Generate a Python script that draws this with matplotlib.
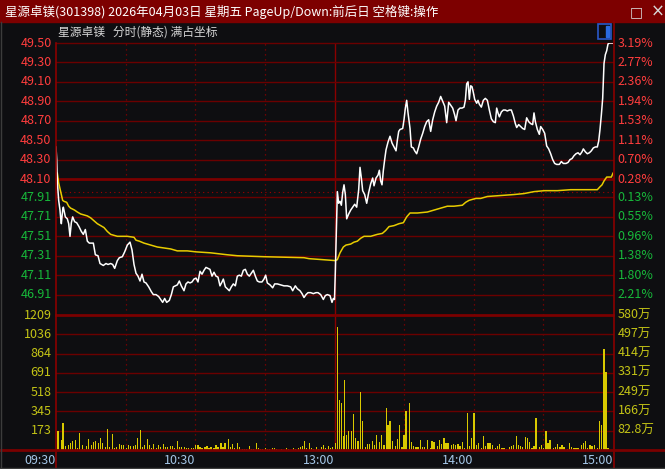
import matplotlib
matplotlib.use('Agg')
import matplotlib.pyplot as plt
from matplotlib.patches import Rectangle
from matplotlib.lines import Line2D

plt.rcParams['font.family'] = ['Noto Sans CJK SC', 'DejaVu Sans']

title = '星源卓镁(301398) 2026年04月03日 星期五 PageUp/Down:前后日 空格键:操作'
subtitle = '星源卓镁   分时(静态) 满占坐标'
prev_close = 47.97

price_ticks = [49.50, 49.30, 49.10, 48.90, 48.70, 48.50, 48.30, 48.10,
               47.91, 47.71, 47.51, 47.31, 47.11, 46.91]
pct_labels = ['3.19%', '2.77%', '2.36%', '1.94%', '1.53%', '1.11%', '0.70%', '0.28%',
              '0.13%', '0.55%', '0.96%', '1.38%', '1.80%', '2.21%']
vol_ticks = [173, 345, 518, 691, 864, 1036, 1209]
amt_labels = ['82.8万', '166万', '249万', '331万', '414万', '497万', '580万']
time_ticks = [0, 60, 120, 180, 240]
time_labels = ['09:30', '10:30', '13:00', '14:00', '15:00']

# minute index (0 = 09:30, 120 = 11:30/13:00, 240 = 15:00)
price_t = [0, 0.3, 0.6, 1.15, 1.72, 2.01, 2.30, 2.87, 3.16, 4.02, 4.88, 5.46, 6.03, 6.61, 7.18,
           8.04, 8.90, 9.91, 10.92, 11.78, 12.64, 13.50, 14.36, 16.09, 16.95, 18.10, 18.96,
           20.39, 21.54, 22.41, 23.55, 24.42, 25.28, 26.43, 27.29, 28.58, 29.59, 30.74, 31.88,
           32.75, 33.61, 34.47, 35.33, 36.20, 37.06, 37.92, 38.78, 39.93, 41.08, 41.94, 43.09,
           44.24, 45.10, 45.96, 46.82, 47.69, 48.83, 49.70, 50.56, 51.42, 52.28, 53.14, 54.00,
           55.15, 56.01, 56.88, 57.74, 58.60, 59.46, 60.33, 61.18, 62.05, 62.91, 63.77, 64.63,
           65.49, 66.35, 67.22, 68.08, 68.94, 69.80, 70.66, 71.52, 72.10, 72.96, 73.82, 74.68,
           75.55, 76.41, 77.27, 78.13, 78.99, 79.86, 80.72, 81.58, 82.44, 83.30, 84.16, 85.03,
           85.89, 86.75, 87.61, 88.76, 89.62, 90.34, 91.06, 92.21, 93.36, 94.22, 95.37, 96.80,
           98.24, 99.68, 101.11, 101.98, 103.12, 103.99, 105.13, 106.00, 106.86, 107.72, 108.58,
           109.73, 110.88, 112.03, 112.89, 114.04, 115.19, 116.05, 116.91, 118.06, 118.92,
           119.50, 120.00, 120.36, 120.94, 121.23, 121.80, 122.38, 122.95, 123.52, 124.10,
           124.67, 125.25, 126.11, 126.97, 127.83, 128.70, 129.56, 130.42, 130.99, 131.57,
           132.14, 133.00, 133.87, 134.73, 135.59, 136.45, 137.03, 137.89, 138.75, 139.32,
           139.90, 140.47, 141.05, 141.62, 142.20, 143.06, 143.92, 144.78, 145.64, 146.51,
           147.08, 147.66, 148.23, 149.38, 149.95, 150.53, 151.10, 151.68, 152.54, 153.11,
           153.97, 154.55, 155.41, 156.27, 157.13, 158.00, 158.86, 159.72, 160.58, 161.44,
           162.31, 163.17, 164.03, 164.89, 165.75, 166.61, 167.48, 168.34, 169.20, 170.06,
           170.92, 171.78, 172.36, 173.22, 174.08, 174.95, 175.81, 176.38, 176.95, 177.53,
           178.10, 178.68, 179.25, 179.83, 180.40, 181.26, 181.83, 182.41, 183.27, 184.13,
           184.99, 185.86, 186.72, 187.58, 188.44, 189.30, 189.88, 190.45, 191.03, 191.89,
           192.75, 193.61, 194.47, 195.34, 196.20, 197.06, 197.92, 198.50, 199.36, 200.22,
           201.08, 201.94, 202.80, 203.67, 204.53, 205.39, 205.96, 206.54, 207.40, 208.26,
           208.84, 209.70, 210.56, 211.42, 212.28, 213.14, 214.01, 214.87, 215.73, 216.88,
           217.74, 218.60, 219.75, 220.61, 221.48, 222.34, 223.20, 224.06, 224.92, 225.78,
           226.65, 227.22, 228.08, 228.94, 229.81, 230.67, 231.53, 232.39, 233.25, 233.83,
           234.40, 234.98, 235.55, 235.84, 236.13, 236.70, 237.28, 237.85, 238.42, 239.86]
price_v = [48.43, 48.30, 48.06, 47.88, 47.78, 47.70, 47.64, 47.78, 47.81, 47.71, 47.69, 47.64,
           47.51, 47.65, 47.71, 47.66, 47.65, 47.61, 47.56, 47.53, 47.58, 47.46, 47.44, 47.44,
           47.32, 47.31, 47.23, 47.21, 47.23, 47.22, 47.23, 47.22, 47.18, 47.26, 47.29, 47.30,
           47.35, 47.42, 47.45, 47.37, 47.22, 47.13, 47.10, 47.05, 47.12, 47.04, 47.03, 46.99,
           46.94, 46.91, 46.91, 46.89, 46.86, 46.83, 46.87, 46.83, 46.85, 46.91, 46.99, 47.00,
           47.01, 47.05, 47.00, 46.95, 47.02, 47.04, 47.03, 47.04, 47.07, 47.08, 47.04, 47.15,
           47.12, 47.16, 47.19, 47.18, 47.17, 47.10, 47.14, 47.10, 47.09, 47.00, 47.04, 47.07,
           46.99, 46.97, 46.95, 46.99, 47.02, 47.00, 47.10, 47.11, 47.10, 47.16, 47.17, 47.12,
           47.10, 47.13, 47.16, 47.10, 47.05, 47.04, 47.04, 47.07, 47.11, 47.03, 47.01, 46.98,
           47.02, 47.02, 47.01, 47.00, 47.00, 46.99, 46.95, 47.00, 46.97, 46.95, 46.92, 46.88,
           46.91, 46.93, 46.93, 46.92, 46.93, 46.93, 46.91, 46.86, 46.90, 46.91, 46.90, 46.83,
           46.87, 46.86, 47.15, 47.70, 47.97, 47.85, 47.87, 47.83, 47.96, 48.04, 47.94, 47.69,
           47.74, 47.78, 47.81, 47.84, 47.81, 47.99, 48.22, 48.11, 47.98, 47.94, 47.85, 47.96,
           48.05, 48.11, 48.03, 48.11, 48.14, 48.19, 48.08, 48.04, 48.19, 48.30, 48.40, 48.48,
           48.54, 48.47, 48.43, 48.39, 48.50, 48.59, 48.61, 48.62, 48.71, 48.83, 48.91, 48.78,
           48.62, 48.43, 48.42, 48.39, 48.36, 48.43, 48.51, 48.57, 48.64, 48.69, 48.71, 48.59,
           48.71, 48.79, 48.85, 48.89, 48.95, 48.90, 48.85, 48.68, 48.89, 48.86, 48.83, 48.76,
           48.70, 48.81, 48.83, 48.83, 48.84, 48.91, 49.08, 49.10, 48.92, 49.06, 49.05, 48.99,
           48.92, 48.88, 48.91, 48.87, 48.84, 48.91, 48.93, 48.91, 48.81, 48.72, 48.69, 48.68,
           48.83, 48.78, 48.74, 48.79, 48.81, 48.81, 48.80, 48.81, 48.81, 48.75, 48.67, 48.63,
           48.66, 48.64, 48.62, 48.61, 48.73, 48.69, 48.67, 48.66, 48.78, 48.69, 48.61, 48.56,
           48.64, 48.61, 48.57, 48.44, 48.41, 48.36, 48.30, 48.26, 48.25, 48.25, 48.28, 48.26,
           48.26, 48.27, 48.30, 48.31, 48.34, 48.36, 48.37, 48.35, 48.38, 48.41, 48.38, 48.36,
           48.37, 48.39, 48.42, 48.43, 48.43, 48.49, 48.61, 48.76, 48.93, 49.10, 49.29, 49.38,
           49.42, 49.49, 49.50, 49.50]

avg_t = [0.57, 1.15, 2.01, 2.87, 3.45, 4.6, 5.46, 6.3, 7.18, 8.0, 9.19, 10.63, 12.07, 13.50,
         14.94, 16.37, 17.81, 19.25, 20.68, 22.12, 23.55, 24.99, 26.43, 27.86, 30.74, 33.61,
         34.47, 35.91, 37.92, 40.79, 43.66, 46.53, 49.41, 52.28, 56.59, 60.33, 66.64, 73.82,
         78.13, 89.62, 106.86, 109.01, 114.76, 120.36, 121.23, 122.38, 123.81, 124.96, 126.97,
         128.41, 129.85, 131.28, 132.72, 135.59, 138.46, 140.62, 142.05, 143.49, 145.64, 147.80,
         149.67, 151.10, 152.54, 155.70, 160.01, 162.88, 165.75, 168.62, 171.49, 175.09, 176.52,
         177.96, 179.40, 180.98, 182.98, 185.86, 191.60, 197.35, 201.65, 205.96, 210.56, 216.02,
         221.77, 228.94, 233.25, 234.40, 235.27, 236.13, 237.28, 239.29, 240.0]
avg_v = [48.16, 48.06, 47.97, 47.88, 47.87, 47.86, 47.82, 47.80, 47.79, 47.78, 47.76, 47.74,
         47.73, 47.72, 47.70, 47.67, 47.64, 47.62, 47.60, 47.56, 47.53, 47.52, 47.51, 47.51,
         47.51, 47.50, 47.47, 47.46, 47.44, 47.42, 47.40, 47.39, 47.38, 47.36, 47.36, 47.35,
         47.34, 47.32, 47.31, 47.30, 47.29, 47.28, 47.27, 47.26, 47.27, 47.34, 47.40, 47.42,
         47.43, 47.45, 47.46, 47.49, 47.51, 47.51, 47.53, 47.54, 47.57, 47.61, 47.62, 47.64,
         47.65, 47.71, 47.75, 47.75, 47.76, 47.78, 47.80, 47.82, 47.82, 47.83, 47.86, 47.88,
         47.89, 47.90, 47.90, 47.92, 47.93, 47.94, 47.95, 47.97, 47.98, 47.98, 47.99, 47.99,
         47.99, 48.02, 48.04, 48.08, 48.12, 48.12, 48.16]

vol_t = [0.86, 2.30, 3.02, 4.02, 5.31, 6.18, 7.04, 8.33, 9.19, 10.05, 11.35, 12.21, 13.07,
         13.93, 15.22, 16.09, 16.95, 18.24, 19.10, 19.96, 21.26, 22.12, 22.98, 24.27, 25.13,
         25.99, 27.29, 28.15, 29.01, 30.31, 31.17, 32.03, 33.32, 34.18, 35.05, 36.34, 37.20,
         38.06, 39.36, 40.22, 41.08, 41.94, 43.23, 44.09, 44.96, 46.25, 47.11, 47.97, 49.27,
         50.13, 50.99, 52.28, 53.14, 54.00, 55.30, 56.16, 57.02, 58.31, 59.18, 60.04,
         61.18, 62.05, 62.91, 64.20, 65.06, 65.92, 66.79, 68.08, 68.94, 69.80, 71.09, 71.96,
         72.82, 74.25, 75.12, 75.98, 76.84, 78.13, 78.99, 80.29, 81.15, 82.01, 83.30, 84.16,
         85.03, 86.32, 87.18, 88.04, 88.90, 90.20, 91.06, 91.92, 93.21, 94.07, 94.94, 97.09,
         99.25, 100.11, 102.26, 103.12, 104.42, 105.28, 106.14, 107.00, 107.86, 109.16, 110.02,
         110.88, 112.17, 113.03, 114.33, 115.19, 116.05, 117.34, 118.20, 119.07, 120.36,
         121.23, 122.09, 122.95, 123.81, 124.39, 125.25, 126.11, 127.26, 128.12, 128.98,
         130.13, 131.28, 132.14, 133.29, 134.15, 135.01, 136.45, 137.31, 138.17, 139.32,
         140.19, 141.33, 142.20, 143.06, 143.92, 145.07, 146.22, 147.08, 147.94, 149.09,
         149.95, 150.81, 152.25, 153.11, 153.97, 155.12, 155.98, 156.85, 158.00, 158.86,
         160.01, 161.16, 162.02, 162.88, 164.31, 165.18, 166.04, 167.19, 168.05, 168.91,
         170.35, 171.21, 172.07, 173.22, 174.08, 174.95, 176.09, 177.24, 178.10, 178.97,
         180.11, 181.26, 182.12, 183.27, 184.13, 184.99, 186.14, 187.00, 188.15, 189.30,
         190.16, 191.03, 192.17, 193.04, 194.19, 195.34, 196.20, 197.06, 198.50, 199.36,
         200.22, 201.08, 202.23, 203.09, 203.95, 205.10, 205.96, 206.82, 208.26, 209.12,
         209.98, 211.13, 211.99, 212.86, 214.29, 215.16, 216.02, 217.17, 218.03, 218.89,
         220.33, 221.19, 222.05, 223.20, 224.06, 224.92, 226.36, 227.22, 228.08, 228.94,
         230.09, 230.95, 232.10, 233.25, 234.11, 234.98, 236.13, 236.98, 237.85, 240.15]
vol_v = [169, 89, 238, 36, 45, 59, 80, 89, 15, 155, 45, 6, 36, 98, 45, 71, 80, 65, 107, 65,
         24, 187, 30, 146, 15, 30, 54, 48, 48, 18, 45, 36, 39, 45, 107, 178, 24, 45, 98, 45,
         15, 54, 18, 45, 24, 51, 30, 30, 36, 36, 15, 80, 24, 30, 30, 15, 21, 15, 15, 48,
         45, 30, 15, 30, 36, 15, 24, 15, 45, 24, 65, 24, 59, 98, 24, 54, 15, 65, 30, 9, 9, 9,
         36, 9, 9, 65, 15, 9, 9, 15, 9, 9, 15, 21, 9, 6, 18, 9, 15, 9, 15, 24, 36, 80, 15, 65,
         15, 6, 30, 9, 24, 45, 15, 36, 15, 30, 62,
         1106, 446, 422, 125, 624, 134, 173, 173, 321, 104, 83, 517, 262, 30, 54, 54, 83, 45,
         134, 74, 134, 45, 375, 223, 262, 83, 36, 98, 223, 30, 134, 351, 422, 74, 36, 30, 30,
         89, 30, 30, 89, 15, 83, 74, 36, 89, 54, 110, 65, 65, 45, 54, 45, 54, 36, 74, 15, 333,
         36, 110, 330, 45, 59, 15, 125, 36, 59, 59, 45, 15, 36, 54, 15, 15, 6, 30, 36, 45, 125,
         45, 36, 30, 113, 104, 71, 15, 36, 283, 30, 45, 15, 170, 65, 89, 15, 24, 54, 24, 45,
         30, 6, 59, 24, 15, 15, 15, 45, 59, 80, 15, 45, 36, 45, 15, 259, 223, 907, 699, 15, 654]

bg = '#0e0e11'
grid = '#6a0000'
grid_thick = '#7a0000'
border = '#8a0000'
red_txt = '#ff3d3d'
green_txt = '#17b83a'
vol_txt = '#c4c416'
time_txt = '#a4c6e6'
W, H = 665, 469

fig = plt.figure(figsize=(W / 100, H / 100), dpi=100, facecolor=bg)


def fx(px):
    return px / W


def fy(py):
    return 1 - py / H


ax_p = fig.add_axes([fx(56), fy(315), fx(613) - fx(56), fy(43) - fy(315)])
ax_v = fig.add_axes([fx(56), fy(450), fx(613) - fx(56), fy(315) - fy(450)])

for ax in (ax_p, ax_v):
    ax.set_facecolor(bg)
    ax.set_xlim(0, 240)
    for s in ax.spines.values():
        s.set_visible(False)
    ax.set_xticks([])
    ax.set_yticks([])
    for m in (30, 60, 90, 150, 180, 210):
        ax.axvline(m, color=border, lw=0.9, ls=(0, (1, 3)), zorder=1)
    ax.axvline(120, color=border, lw=1, zorder=1)

ax_p.set_ylim(46.70, 49.50)
ax_v.set_ylim(0, 1209)

# price gridlines and labels
for i, p in enumerate(price_ticks):
    thick = p == 48.10
    ax_p.axhline(p, color=grid_thick if thick else grid, lw=2 if thick else 1, zorder=1,
                 clip_on=False)
    c = red_txt if p >= prev_close else green_txt
    ax_p.text(-0.008, p, f'{p:.2f}', transform=ax_p.get_yaxis_transform(), ha='right',
              va='center', color=c, fontsize=9)
    ax_p.text(1.008, p, pct_labels[i], transform=ax_p.get_yaxis_transform(), ha='left',
              va='center', color=c, fontsize=9)
ax_p.axhline(prev_close, color='#a00000', lw=0.8, ls=(0, (1, 3)), zorder=1)

for i, v in enumerate(vol_ticks):
    thick = v == 1209
    ax_v.axhline(v, color=grid_thick if thick else grid, lw=2 if thick else 1, zorder=1,
                 clip_on=False)
    ax_v.text(-0.008, v, str(v), transform=ax_v.get_yaxis_transform(), ha='right',
              va='center', color=vol_txt, fontsize=9)
    ax_v.text(1.008, v, amt_labels[i], transform=ax_v.get_yaxis_transform(), ha='left',
              va='center', color=vol_txt, fontsize=9)

# lines
ax_p.plot(avg_t, avg_v, color='#e8cc00', lw=1.1, zorder=3)
ax_p.plot(price_t, price_v, color='white', lw=1.1, zorder=4)

# volume bars
ax_v.bar(vol_t, vol_v, width=0.45, color='#d9c900', zorder=3)

for t, lab in zip(time_ticks, time_labels):
    ax_v.text(t, -0.075, lab, transform=ax_v.get_xaxis_transform(), ha='right', va='center',
              color=time_txt, fontsize=9)

# window chrome
fig.patches.append(Rectangle((0, fy(22)), 1, fy(0) - fy(22), transform=fig.transFigure,
                             color='#7d0000', zorder=0))
fig.text(fx(5), fy(12), title, color='white', fontsize=9, va='center', ha='left')
fig.text(fx(630), fy(12), '□', color='#d8d8d8', fontsize=10, va='center', ha='left',
         family=['DejaVu Sans'])
fig.text(fx(651), fy(12), '×', color='#d8d8d8', fontsize=12, va='center', ha='left',
         family=['DejaVu Sans'])
fig.text(fx(58), fy(32), subtitle, color='#d6d6d6', fontsize=8.5, va='center', ha='left')
fig.patches.append(Rectangle((fx(598), fy(39)), fx(13), fy(24) - fy(39),
                             transform=fig.transFigure, fill=False, ec='#2a58c8', lw=1.2))
fig.patches.append(Rectangle((fx(605.5), fy(37)), fx(3), fy(26) - fy(37),
                             transform=fig.transFigure, color='#2a6ae0'))

fig.lines.append(Line2D([fx(56), fx(56)], [fy(43), 0], transform=fig.transFigure,
                        color=border, lw=1.2))
fig.lines.append(Line2D([fx(613.5), fx(613.5)], [fy(22), 0], transform=fig.transFigure,
                        color=border, lw=1.2))
fig.lines.append(Line2D([0, 1], [fy(450), fy(450)], transform=fig.transFigure,
                        color=grid_thick, lw=2))
fig.lines.append(Line2D([fx(0.5), fx(0.5)], [fy(22), 0], transform=fig.transFigure,
                        color='#3c3c3c', lw=1))
fig.lines.append(Line2D([0, 1], [fy(467.5), fy(467.5)], transform=fig.transFigure,
                        color='#3c3c3c', lw=1))

fig.savefig('out.png', dpi=100, facecolor=bg)
